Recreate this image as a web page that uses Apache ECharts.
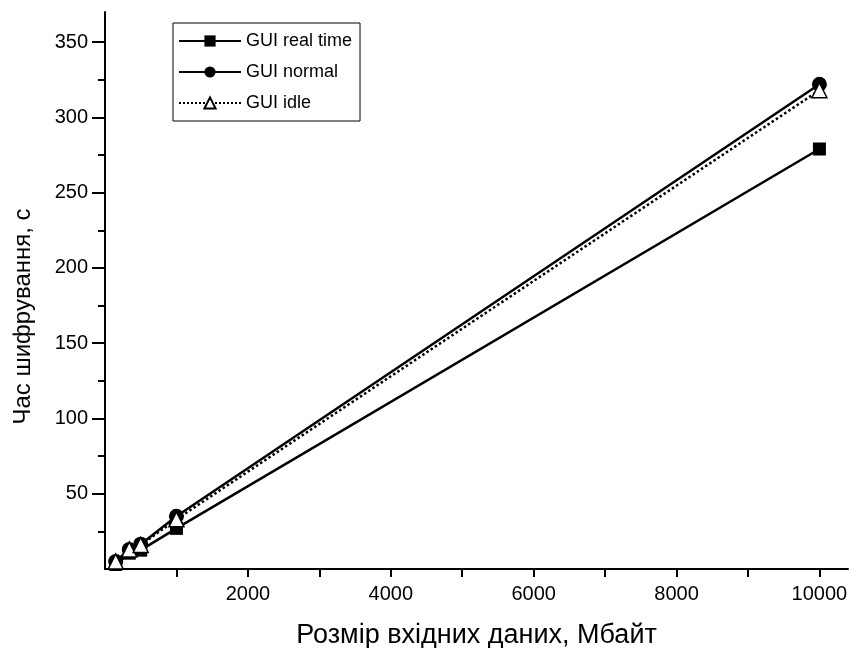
<!DOCTYPE html>
<html>
<head>
<meta charset="utf-8">
<script src="https://cdn.jsdelivr.net/npm/echarts@6/dist/echarts.min.js"></script>
<style>html,body{margin:0;padding:0;background:#fff;}#c{width:851px;height:648px;}</style>
</head>
<body>
<div id="c"></div>
<script>
const xValues = [150, 340, 500, 1000, 10000];
const realTime = [3, 10.5, 12.5, 27, 279];
const normal = [5, 13, 16.5, 35, 322];
const idle = [5, 13, 16, 33, 318];
const seriesNames = ['GUI real time', 'GUI normal', 'GUI idle'];
const xTickValues = [1000, 2000, 3000, 4000, 5000, 6000, 7000, 8000, 9000, 10000];
const xLabelValues = [2000, 4000, 6000, 8000, 10000];
const yMajorValues = [50, 100, 150, 200, 250, 300, 350];
const yMinorValues = [25, 75, 125, 175, 225, 275, 325];
const xTitle = 'Розмір вхідних даних, Мбайт';
const yTitle = 'Час шифрування, с';

const FONT = 'Arial, "Liberation Sans", sans-serif';
const pairs = arr => xValues.map((x, i) => [x, arr[i]]);

const chart = echarts.init(document.getElementById('c'), null, {renderer: 'canvas'});
chart.setOption({
  backgroundColor: '#fff',
  animation: false,
  grid: {left: 105, top: 12, right: 3, bottom: 79, containLabel: false, outerBoundsMode: 'none'},
  legend: {
    orient: 'vertical',
    left: 173, top: 23,
    padding: [8, 8, 8, 5],
    itemGap: 11,
    itemWidth: 62,
    itemHeight: 14,
    borderColor: '#000', borderWidth: 1,
    textStyle: {fontFamily: FONT, fontSize: 18, color: '#000', lineHeight: 20},
    data: seriesNames
  },
  xAxis: {
    type: 'value', min: 0, max: 10400,
    axisLine: {show: true, lineStyle: {color: '#000', width: 2}},
    axisTick: {show: true, length: 8, customValues: xTickValues, lineStyle: {color: '#000', width: 2}},
    splitLine: {show: false},
    axisLabel: {
      fontFamily: FONT, fontSize: 20, color: '#000', margin: 15,
      customValues: xLabelValues,
      formatter: v => String(v)
    },
    name: xTitle, nameLocation: 'middle', nameGap: 53,
    nameTextStyle: {fontFamily: FONT, fontSize: 27, color: '#000'}
  },
  yAxis: [
    {
      type: 'value', min: 0, max: 370,
      axisLine: {show: true, lineStyle: {color: '#000', width: 2}},
      axisTick: {show: true, length: 13, customValues: yMajorValues, lineStyle: {color: '#000', width: 2}},
      splitLine: {show: false},
      axisLabel: {
        fontFamily: FONT, fontSize: 20, color: '#000', margin: 17,
        customValues: yMajorValues,
        formatter: v => String(v)
      },
      name: yTitle, nameLocation: 'middle', nameGap: 70, nameRotate: 90,
      nameTextStyle: {fontFamily: FONT, fontSize: 24, color: '#000', padding: [0, 52, 0, 0]}
    },
    {
      type: 'value', min: 0, max: 370, position: 'left',
      axisLine: {show: false},
      axisTick: {show: true, length: 7, customValues: yMinorValues, lineStyle: {color: '#000', width: 2}},
      splitLine: {show: false},
      axisLabel: {show: false}
    }
  ],
  series: [
    {
      name: seriesNames[0], type: 'line', data: pairs(realTime),
      symbol: 'rect', symbolSize: 13,
      lineStyle: {color: '#000', width: 2.5, type: 'solid'},
      itemStyle: {color: '#000'}
    },
    {
      name: seriesNames[1], type: 'line', data: pairs(normal),
      symbol: 'circle', symbolSize: 15,
      lineStyle: {color: '#000', width: 2.5, type: 'solid'},
      itemStyle: {color: '#000'}
    },
    {
      name: seriesNames[2], type: 'line', data: pairs(idle),
      symbol: 'triangle', symbolSize: 15,
      lineStyle: {color: '#000', width: 2.5, type: 'dotted'},
      itemStyle: {color: '#fff', borderColor: '#000', borderWidth: 1.5}
    }
  ]
});
</script>
</body>
</html>
